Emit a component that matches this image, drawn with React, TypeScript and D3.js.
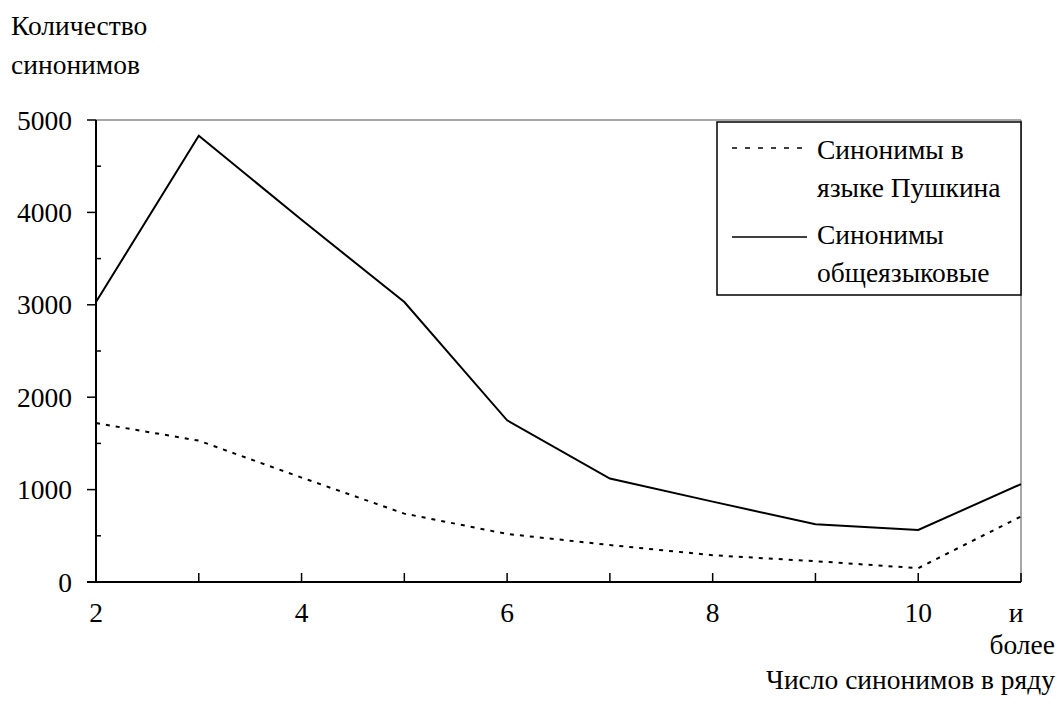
import React from "react";
import * as d3 from "d3";

const categories = [2, 3, 4, 5, 6, 7, 8, 9, 10, 11];
const tickLabels = ["2", "", "4", "", "6", "", "8", "", "10", ""];
const pushkin = [1720, 1530, 1130, 740, 520, 400, 290, 225, 150, 710];
const common = [3030, 4830, 3920, 3030, 1750, 1120, 870, 625, 563, 1060];
const seriesNames = [
  ["Синонимы в", "языке Пушкина"],
  ["Синонимы", "общеязыковые"],
];
const yTicks = [0, 1000, 2000, 3000, 4000, 5000];
const yMinorTicks = [500, 1500, 2500, 3500, 4500];

const FONT = "Liberation Serif";

export default function App() {
  const W = 1060, H = 720;
  const left = 96, right = 1021, top = 120, bottom = 582;
  const x = d3.scaleLinear().domain([2, 11]).range([left, right]);
  const y = d3.scaleLinear().domain([0, 5000]).range([bottom, top]);
  const line = d3
    .line<number>()
    .x((_, i) => x(categories[i]))
    .y((d) => y(d));

  const ts = { fontFamily: FONT, fontSize: 27.5 };

  return (
    <div style={{ position: "absolute", left: 0, top: 0 }}>
      <svg width={W} height={H} style={{ display: "block", background: "#fff" }}>
        <rect x={0} y={0} width={W} height={H} fill="#fff" />
        <line x1={left} x2={right} y1={top} y2={top} stroke="#8a8a8a" strokeWidth={1.5} />
        <line x1={right} x2={right} y1={top} y2={bottom} stroke="#8a8a8a" strokeWidth={1.5} />

        <path d={line(common) || ""} fill="none" stroke="#000" strokeWidth={2} />
        <path d={line(pushkin) || ""} fill="none" stroke="#000" strokeWidth={2} strokeDasharray="4,6" />

        <line x1={left} x2={left} y1={top} y2={bottom} stroke="#000" strokeWidth={2} />
        {yTicks.map((t) => (
          <g key={t}>
            <line x1={left - 9} x2={left} y1={y(t)} y2={y(t)} stroke="#000" strokeWidth={1.5} />
            <text x={72} y={y(t) + 9.5} textAnchor="end" style={ts}>{t}</text>
          </g>
        ))}
        {yMinorTicks.map((t) => (
          <line key={t} x1={left} x2={left + 5} y1={y(t)} y2={y(t)} stroke="#000" strokeWidth={1.5} />
        ))}

        <line x1={left - 9} x2={right} y1={bottom} y2={bottom} stroke="#000" strokeWidth={2} />
        {categories.map((c, i) => (
          <g key={c}>
            <line x1={x(c)} x2={x(c)} y1={bottom - 9} y2={bottom} stroke="#000" strokeWidth={1.5} />
            {tickLabels[i] && (
              <text x={x(c)} y={622} textAnchor="middle" style={ts}>{tickLabels[i]}</text>
            )}
          </g>
        ))}
        <text x={1016} y={622} textAnchor="middle" style={ts}>и</text>
        <text x={1055} y={654} textAnchor="end" style={ts}>более</text>
        <text x={1055} y={689} textAnchor="end" style={ts}>Число синонимов в ряду</text>

        <text x={11} y={35} style={ts}>Количество</text>
        <text x={11} y={74} style={ts}>синонимов</text>

        <rect x={717} y={122} width={304} height={173} fill="#fff" stroke="#000" strokeWidth={1.5} />
        <line x1={732} x2={807} y1={148} y2={148} stroke="#000" strokeWidth={1.5} strokeDasharray="5,8" />
        <text x={817} y={159} style={ts}>{seriesNames[0][0]}</text>
        <text x={817} y={197} style={ts}>{seriesNames[0][1]}</text>
        <line x1={732} x2={807} y1={237} y2={237} stroke="#000" strokeWidth={1.5} />
        <text x={817} y={244} style={ts}>{seriesNames[1][0]}</text>
        <text x={817} y={282} style={ts}>{seriesNames[1][1]}</text>
      </svg>
    </div>
  );
}
